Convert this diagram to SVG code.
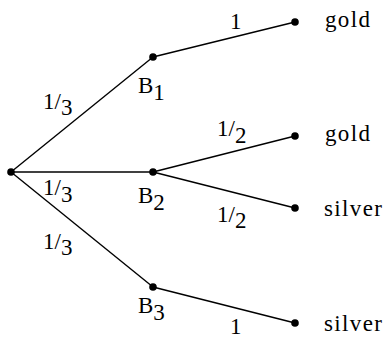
<svg xmlns="http://www.w3.org/2000/svg" width="385" height="339" viewBox="0 0 385 339" font-family="'Liberation Serif', 'Times New Roman', serif" font-size="23">
<style>
.e{stroke:#000;stroke-width:1.4;fill:none}
.d{fill:#000}
</style>
<rect width="385" height="339" fill="#fff"/>
<g id="connectors">
<line class="e" x1="11" y1="172" x2="153" y2="57"/>
<line class="e" x1="11" y1="172" x2="153" y2="172"/>
<line class="e" x1="11" y1="172" x2="153" y2="287"/>
<line class="e" x1="153" y1="57" x2="295" y2="22"/>
<line class="e" x1="153" y1="172" x2="295" y2="136"/>
<line class="e" x1="153" y1="172" x2="295" y2="208"/>
<line class="e" x1="153" y1="287" x2="295" y2="323"/>
<text font-family="Liberation Serif, serif" x="43" y="109">1/<tspan dy="6">3</tspan></text>
<text font-family="Liberation Serif, serif" x="43" y="195">1/<tspan dy="7">3</tspan></text>
<text font-family="Liberation Serif, serif" x="43" y="249">1/<tspan dy="6">3</tspan></text>
<text font-family="Liberation Serif, serif" x="230" y="29">1</text>
<text font-family="Liberation Serif, serif" x="217" y="136">1/<tspan dy="7">2</tspan></text>
<text font-family="Liberation Serif, serif" x="217" y="222">1/<tspan dy="6">2</tspan></text>
<text font-family="Liberation Serif, serif" x="230" y="334">1</text>
</g>
<g id="root"><circle class="d" cx="11" cy="172" r="3.8"/></g>
<g id="B1"><circle class="d" cx="153" cy="57" r="3.8"/><text font-family="Liberation Serif, serif" x="138" y="93">B<tspan dy="7">1</tspan></text></g>
<g id="B2"><circle class="d" cx="153" cy="172" r="3.8"/><text font-family="Liberation Serif, serif" x="138" y="203">B<tspan dy="7">2</tspan></text></g>
<g id="B3"><circle class="d" cx="153" cy="287" r="3.8"/><text font-family="Liberation Serif, serif" x="138" y="313">B<tspan dy="7">3</tspan></text></g>
<g id="leaf1"><circle class="d" cx="295" cy="22" r="3.8"/><text font-family="Liberation Serif, serif" x="325" y="27" textLength="45">gold</text></g>
<g id="leaf2"><circle class="d" cx="295" cy="136" r="3.8"/><text font-family="Liberation Serif, serif" x="325" y="141" textLength="45">gold</text></g>
<g id="leaf3"><circle class="d" cx="295" cy="208" r="3.8"/><text font-family="Liberation Serif, serif" x="324" y="216" textLength="58">silver</text></g>
<g id="leaf4"><circle class="d" cx="295" cy="323" r="3.8"/><text font-family="Liberation Serif, serif" x="324" y="331" textLength="58">silver</text></g>
</svg>
